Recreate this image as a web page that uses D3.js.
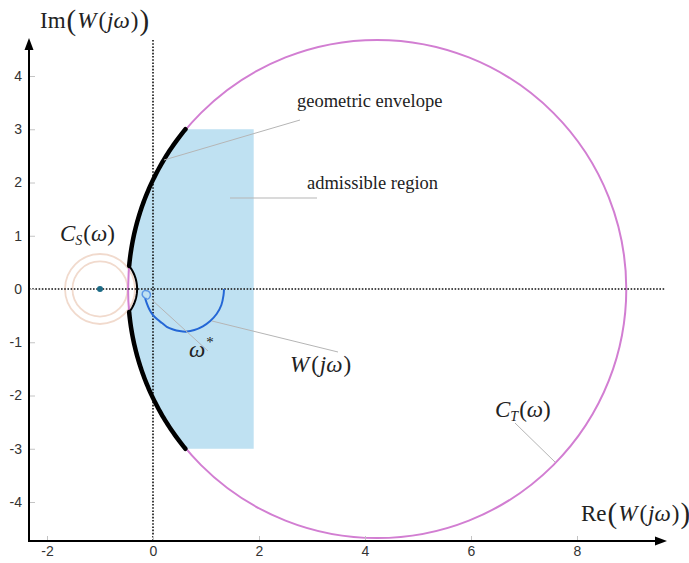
<!DOCTYPE html>
<html>
<head>
<meta charset="utf-8">
<script src="https://cdn.jsdelivr.net/npm/d3@7/dist/d3.min.js"></script>
<style>
  html, body { margin: 0; padding: 0; background: #fff; }
  svg { display: block; }
  .tick text { font-family: "Liberation Sans", Arial, sans-serif; font-size: 14px; fill: #333; }
  .tick line { stroke: #c4c4c4; }
  .lbl { font-family: "Liberation Serif", "Times New Roman", serif; fill: #222; }
</style>
</head>
<body>
<svg id="chart" width="689" height="563"></svg>
<script>
// ---- data ----
const xTicks = [-2, 0, 2, 4, 6, 8];
const yTicks = [-4, -3, -2, -1, 0, 1, 2, 3, 4];

// large circle C_T(ω): centre on the real axis and radius
const ctCentre = [4.23, 0];
const ctRadius = 4.7;

// small circles C_S(ω) around the critical point -1
const csCentre = [-1, 0];
const csRadii = [0.52, 0.66];
const csGuardRadius = 0.7;   // the envelope bends around C_S with this radius

// admissible region limits
const regionRe = 1.9;
const regionIm = [-3, 3];

// Nyquist curve W(jω)
const wRe = [1.34, 1.33, 1.29, 1.2, 1.08, 0.94, 0.78, 0.64, 0.5, 0.38, 0.26, 0.17, 0.08, 0.0, -0.07, -0.12, -0.15];
const wIm = [0.0, -0.12, -0.3, -0.47, -0.6, -0.7, -0.77, -0.8, -0.79, -0.76, -0.71, -0.64, -0.57, -0.49, -0.38, -0.26, -0.17];
// small loop close to the origin (near ω*)
const loopRe = [-0.15, -0.19, -0.2, -0.16, -0.09, -0.05, -0.06, -0.1, -0.14];
const loopIm = [-0.17, -0.14, -0.07, -0.03, -0.04, -0.09, -0.15, -0.19, -0.17];

// ---- scales ----
const svg = d3.select("#chart");
const x = d3.scaleLinear().domain([-2, 8]).range([47, 577]);
const y = d3.scaleLinear().domain([-4, 4]).range([502, 76]);
const axisX = 29, axisY = 541;

const line = d3.line().x(d => x(d[0])).y(d => y(d[1]));
const smooth = d3.line().curve(d3.curveCatmullRom).x(d => x(d[0])).y(d => y(d[1]));

// points on a circle between two imaginary parts, on its left or right side
function leftArc(c, r, yFrom, yTo, n) {
  const a0 = Math.PI - Math.asin(yFrom / r), a1 = Math.PI - Math.asin(yTo / r);
  return d3.range(n + 1).map(i => {
    const a = a0 + (a1 - a0) * i / n;
    return [c[0] + r * Math.cos(a), c[1] + r * Math.sin(a)];
  });
}
function rightArc(c, r, yFrom, yTo, n) {
  const a0 = Math.asin(yFrom / r), a1 = Math.asin(yTo / r);
  return d3.range(n + 1).map(i => {
    const a = a0 + (a1 - a0) * i / n;
    return [c[0] + r * Math.cos(a), c[1] + r * Math.sin(a)];
  });
}

// where the guard circle meets C_T
const meetY = (() => {
  const d = ctCentre[0] - csCentre[0];
  const px = (csGuardRadius * csGuardRadius - ctRadius * ctRadius + d * d) / (2 * d);
  return Math.sqrt(csGuardRadius * csGuardRadius - px * px);
})();

const upperEnv = leftArc(ctCentre, ctRadius, regionIm[1], meetY, 60);
const guardEnv = rightArc(csCentre, csGuardRadius, meetY, -meetY, 30);
const lowerEnv = leftArc(ctCentre, ctRadius, -meetY, regionIm[0], 60);

// ---- admissible region ----
const regionPts = [[regionRe, regionIm[1]]].concat(upperEnv, guardEnv, lowerEnv, [[regionRe, regionIm[0]]]);
svg.append("path").attr("d", line(regionPts) + "Z").attr("fill", "#bfe1f2");

// ---- C_S circles ----
csRadii.forEach(r => {
  svg.append("circle")
    .attr("cx", x(csCentre[0])).attr("cy", y(csCentre[1]))
    .attr("r", x(r) - x(0))
    .attr("fill", "none").attr("stroke", "#f1dacd").attr("stroke-width", 1.8);
});

// ---- C_T circle ----
svg.append("circle")
  .attr("cx", x(ctCentre[0])).attr("cy", y(ctCentre[1]))
  .attr("r", x(ctRadius) - x(0))
  .attr("fill", "none").attr("stroke", "#d27ed2").attr("stroke-width", 2);

// ---- dotted zero lines ----
svg.append("line").attr("x1", axisX).attr("x2", 665).attr("y1", y(0)).attr("y2", y(0))
  .attr("stroke", "#111").attr("stroke-width", 1.6).attr("stroke-dasharray", "1.6,1.6");
svg.append("line").attr("x1", x(0)).attr("x2", x(0)).attr("y1", 40).attr("y2", axisY)
  .attr("stroke", "#111").attr("stroke-width", 1.6).attr("stroke-dasharray", "1.6,1.6");

// ---- geometric envelope ----
[upperEnv, lowerEnv].forEach(seg => svg.append("path").attr("d", line(seg)).attr("fill", "none")
  .attr("stroke", "#000").attr("stroke-width", 4.5).attr("stroke-linecap", "round"));
svg.append("path").attr("d", line(guardEnv)).attr("fill", "none")
  .attr("stroke", "#000").attr("stroke-width", 2);

// critical point
svg.append("circle").attr("cx", x(csCentre[0])).attr("cy", y(csCentre[1])).attr("r", 3).attr("fill", "#1d6b86");

// ---- W(jω) ----
svg.append("path").attr("d", smooth(wRe.map((v, i) => [v, wIm[i]])))
  .attr("fill", "none").attr("stroke", "#2467d6").attr("stroke-width", 2);
svg.append("path").attr("d", smooth(loopRe.map((v, i) => [v, loopIm[i]])))
  .attr("fill", "none").attr("stroke", "#5b97e6").attr("stroke-width", 1.5);

// ---- axes ----
const gy = svg.append("g").attr("transform", `translate(${axisX},0)`)
  .call(d3.axisLeft(y).tickValues(yTicks).tickSize(-6).tickPadding(7).tickFormat(d => String(d)));
gy.select(".domain").remove();
const gx = svg.append("g").attr("transform", `translate(0,${axisY})`)
  .call(d3.axisBottom(x).tickValues(xTicks).tickSize(-5).tickPadding(5).tickFormat(d => String(d)));
gx.select(".domain").remove();

svg.append("line").attr("x1", axisX).attr("x2", axisX).attr("y1", axisY + 1).attr("y2", 48)
  .attr("stroke", "#000").attr("stroke-width", 2);
svg.append("path").attr("d", `M${axisX},38 L${axisX - 4.5},50 L${axisX + 4.5},50 Z`).attr("fill", "#000");
svg.append("line").attr("x1", axisX).attr("x2", 656).attr("y1", axisY).attr("y2", axisY)
  .attr("stroke", "#000").attr("stroke-width", 2);
svg.append("path").attr("d", `M667,${axisY} L655,${axisY - 4.5} L655,${axisY + 4.5} Z`).attr("fill", "#000");

// ---- leader lines ----
const leaders = [
  [300, 120, 164, 160],
  [230, 198, 317, 198],
  [152, 300, 208, 351],
  [212, 321, 338, 352],
  [515, 423, 555, 462]
];
leaders.forEach(l => svg.append("line")
  .attr("x1", l[0]).attr("y1", l[1]).attr("x2", l[2]).attr("y2", l[3])
  .attr("stroke", "#b5b5b5").attr("stroke-width", 1));

// ---- labels ----
function mathLabel(xp, yp, size, parts) {
  const t = svg.append("text").attr("class", "lbl").attr("x", xp).attr("y", yp).attr("font-size", size);
  parts.forEach(p => {
    const s = t.append("tspan").text(p.t);
    if (p.i) s.attr("font-style", "italic");
    if (p.dy) s.attr("dy", p.dy);
    if (p.dx) s.attr("dx", p.dx);
    if (p.fs) s.attr("font-size", p.fs);
  });
  return t;
}
const axisTitle = [{t: "Im"}, {t: "(", fs: 29, dy: 2, dx: 1}, {t: "W", i: 1, dy: -2, dx: 1}, {t: "(", dx: 2}, {t: "jω", i: 1, dx: 1}, {t: ")", dx: 1}, {t: ")", fs: 29, dy: 2, dx: 1}];
mathLabel(40, 28, 23, axisTitle);
mathLabel(581, 521, 23, [{t: "Re"}].concat(axisTitle.slice(1)));

svg.append("text").attr("class", "lbl").attr("x", 297).attr("y", 107).attr("font-size", 18.5).text("geometric envelope");
svg.append("text").attr("class", "lbl").attr("x", 307).attr("y", 189).attr("font-size", 18.5).text("admissible region");

mathLabel(60, 241, 23, [{t: "C", i: 1}, {t: "S", i: 1, fs: 14, dy: 4}, {t: "(", dy: -4, dx: 1}, {t: "ω", i: 1}, {t: ")"}]);
mathLabel(495, 417, 23, [{t: "C", i: 1}, {t: "T", i: 1, fs: 14, dy: 4}, {t: "(", dy: -4, dx: 1}, {t: "ω", i: 1}, {t: ")"}]);
mathLabel(290, 372, 23, [{t: "W", i: 1}, {t: "(", dx: 2}, {t: "jω", i: 1, dx: 1}, {t: ")", dx: 1}]);
mathLabel(189, 357, 23, [{t: "ω", i: 1}, {t: "*", fs: 15, dy: -10, dx: 1}]);
</script>
</body>
</html>
